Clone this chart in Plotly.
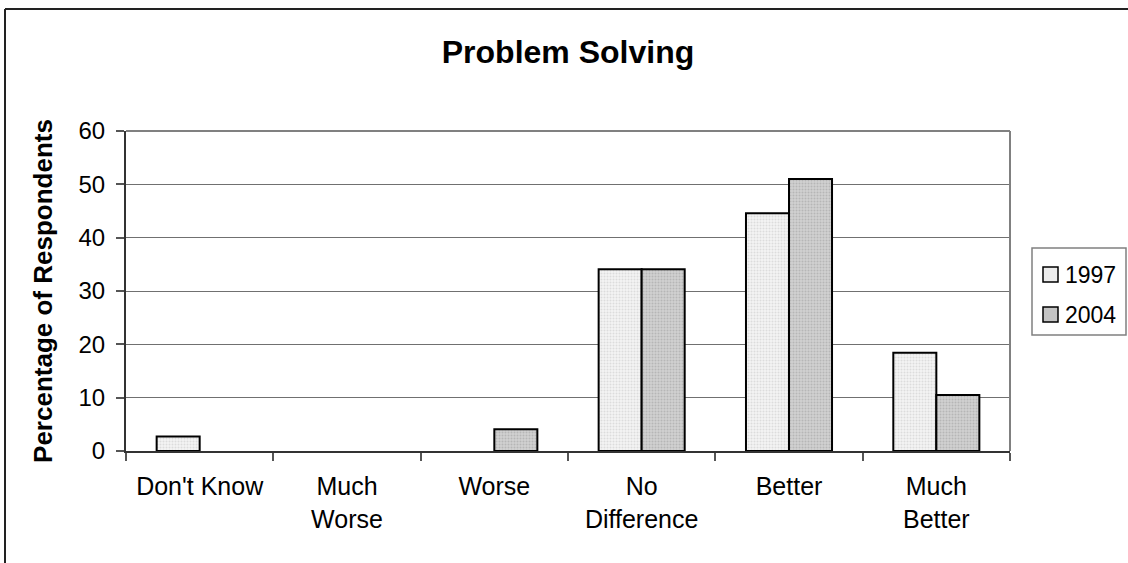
import plotly.graph_objects as go

categories = ["Don't Know", "Much<br>Worse", "Worse", "No<br>Difference", "Better", "Much<br>Better"]
series_names = ["1997", "2004"]
values_1997 = [2.7, 0, 0, 34.1, 44.6, 18.4]
values_2004 = [0, 0, 4.1, 34.1, 51.0, 10.5]
y_ticks = [0, 10, 20, 30, 40, 50, 60]

FONT = "Liberation Sans, Arial, sans-serif"
W, H = 1128, 563
ML, MR, MT, MB = 126, 118, 131, 112
PW, PH = W - ML - MR, H - MT - MB

series_style = [
    dict(bg="#f4f4f4", fg="#c4c4c4", sol=0.35, swatch="#ececec"),
    dict(bg="#d2d2d2", fg="#9a9a9a", sol=0.4, swatch="#c4c4c4"),
]


def px_x(x):
    return (x - ML) / PW


def px_y(y):
    return (H - MB - y) / PH


def drawn(vals):
    # zero-height bars sit on the axis line and are not visible in the original
    return [v if v > 0 else None for v in vals]


fig = go.Figure()
for name, vals, st in zip(series_names, [values_1997, values_2004], series_style):
    fig.add_trace(go.Bar(
        x=categories, y=drawn(vals), name=name, showlegend=False,
        marker=dict(color=st["swatch"], line=dict(color="black", width=2),
                    pattern=dict(shape=".", fgcolor=st["fg"], bgcolor=st["bg"], size=3,
                                 solidity=st["sol"])),
    ))

shapes = [
    # plot area top/right border
    dict(type="line", xref="paper", yref="paper", x0=0, x1=1, y0=1, y1=1,
         line=dict(color="#808080", width=2)),
    dict(type="line", xref="paper", yref="paper", x0=1, x1=1, y0=0, y1=1,
         line=dict(color="#808080", width=2)),
    # outer chart frame (left and top visible)
    dict(type="line", xref="paper", yref="paper", x0=px_x(5), x1=px_x(W + 20), y0=px_y(9), y1=px_y(9),
         line=dict(color="#222222", width=2)),
    dict(type="line", xref="paper", yref="paper", x0=px_x(5), x1=px_x(5), y0=px_y(H + 20), y1=px_y(9),
         line=dict(color="#222222", width=2)),
    # legend box
    dict(type="rect", xref="paper", yref="paper", x0=px_x(1032), x1=px_x(1126), y0=px_y(335), y1=px_y(248),
         line=dict(color="#808080", width=1.5), fillcolor="white"),
]
annotations = []
for i, (name, st) in enumerate(zip(series_names, series_style)):
    cy = 274.5 + 40 * i
    shapes.append(dict(type="rect", xref="paper", yref="paper",
                       x0=px_x(1043), x1=px_x(1058), y0=px_y(cy + 7.5), y1=px_y(cy - 7.5),
                       line=dict(color="black", width=1.5), fillcolor=st["swatch"]))
    annotations.append(dict(text=name, xref="paper", yref="paper", x=px_x(1063), y=px_y(cy),
                            xanchor="left", yanchor="middle", showarrow=False,
                            font=dict(size=23, family=FONT, color="black")))

fig.update_layout(
    width=W, height=H,
    margin=dict(l=ML, r=MR, t=MT, b=MB, autoexpand=False),
    paper_bgcolor="white", plot_bgcolor="white",
    font=dict(family=FONT, color="black", size=25),
    barmode="group", bargap=0.416, bargroupgap=0,
    title=dict(text="<b>Problem Solving</b>", x=0.5, xref="paper", xanchor="center",
               y=1 - 52 / H, yanchor="middle", font=dict(size=32, family=FONT)),
    showlegend=False,
    xaxis=dict(type="category", showline=True, linecolor="#333333", linewidth=2,
               ticks="outside", tickson="boundaries", ticklen=8, tickcolor="#555555",
               tickwidth=1.5, tickfont=dict(size=25), showgrid=False, fixedrange=True,
               ticklabelstandoff=12),
    yaxis=dict(range=[0, 60], tickvals=y_ticks, showline=True, linecolor="#333333", linewidth=2,
               ticks="outside", ticklen=8, tickcolor="#555555", tickwidth=1.5,
               showgrid=True, gridcolor="#707070", gridwidth=1, zeroline=False,
               tickfont=dict(size=24), ticklabelstandoff=6, fixedrange=True,
               title=dict(text="<b>Percentage of Respondents</b>", font=dict(size=26), standoff=18)),
    shapes=shapes,
    annotations=annotations,
)

fig.write_html("out.html", config={"displayModeBar": False},
               post_script="document.body.style.margin='0';document.body.style.padding='0';")
